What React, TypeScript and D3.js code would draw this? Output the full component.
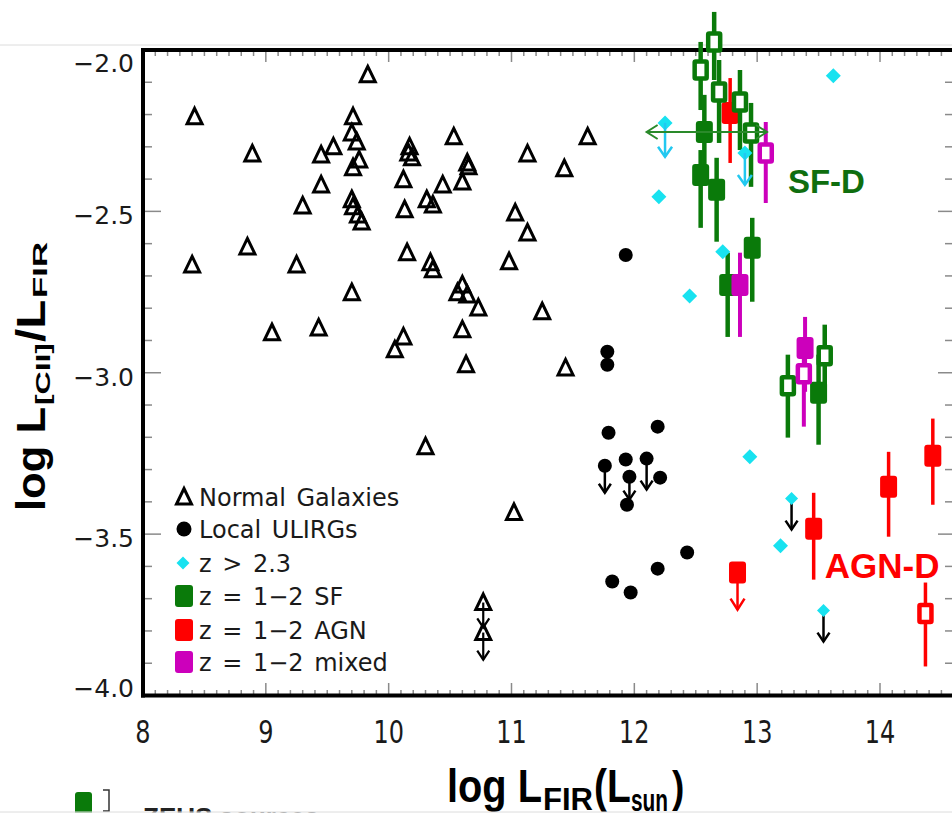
import React from 'react';
import * as d3 from 'd3';

const W = 952;
const H = 817;

const xTicks = [8, 9, 10, 11, 12, 13, 14];
const yTicks = [-2.0, -2.5, -3.0, -3.5, -4.0];
const yTickLabels = ['−2.0', '−2.5', '−3.0', '−3.5', '−4.0'];

// Normal galaxies [log LFIR, log LCII/LFIR]
const normalGalaxies: [number, number][] = [
  [8.42, -2.207], [8.40, -2.666], [8.85, -2.610], [8.89, -2.322], [9.25, -2.666],
  [9.30, -2.483], [9.05, -2.876], [9.43, -2.861], [9.45, -2.325], [9.45, -2.418],
  [9.55, -2.300], [9.70, -2.752], [9.71, -2.207], [9.70, -2.257], [9.74, -2.285],
  [9.76, -2.341], [9.71, -2.365], [9.70, -2.464], [9.71, -2.486], [9.75, -2.511],
  [9.78, -2.533], [9.83, -2.077], [10.05, -2.929], [10.12, -2.889], [10.12, -2.402],
  [10.13, -2.495], [10.15, -2.628], [10.17, -2.300], [10.16, -2.319], [10.19, -2.334],
  [10.30, -3.229], [10.31, -2.464], [10.36, -2.480], [10.34, -2.659], [10.36, -2.681],
  [10.44, -2.418], [10.53, -2.269], [10.56, -2.752], [10.60, -2.409], [10.60, -2.728],
  [10.60, -2.867], [10.64, -2.350], [10.65, -2.362], [10.64, -2.759], [10.63, -2.975],
  [10.73, -2.799], [10.98, -2.656], [11.03, -2.505], [11.02, -3.433], [11.13, -2.322],
  [11.13, -2.567], [11.25, -2.811], [11.43, -2.368], [11.44, -2.985], [11.62, -2.269],
];
const normalLimits = [
  { x: 10.77, y: -3.712, tip: -3.789 },
  { x: 10.77, y: -3.805, tip: -3.889 },
];

// Local ULIRGs
const ulirgs: [number, number][] = [
  [11.93, -2.635], [11.78, -2.935], [11.78, -2.975], [11.79, -3.186], [11.93, -3.269],
  [11.94, -3.409], [12.21, -3.325], [12.19, -3.167], [12.43, -3.557], [12.19, -3.607],
  [11.82, -3.647], [11.97, -3.681],
];
const ulirgLimits = [
  { x: 11.76, y: -3.288, tip: -3.372 },
  { x: 11.96, y: -3.322, tip: -3.393 },
  { x: 12.10, y: -3.266, tip: -3.362 },
];

// z > 2.3
const highZ: [number, number][] = [
  [13.62, -2.080], [12.20, -2.455], [12.72, -2.625], [12.45, -2.762], [12.94, -3.260],
  [13.19, -3.536],
];
const highZCyanLimits = [
  { x: 12.25, y: -2.226, tip: -2.331 },
  { x: 12.90, y: -2.319, tip: -2.418 },
];
const highZBlackLimits = [
  { x: 13.28, y: -3.390, tip: -3.486 },
  { x: 13.54, y: -3.737, tip: -3.833 },
];

type Src = { x: number; y: number; hi: number; lo: number; open: boolean };

const sfSources: Src[] = [
  { x: 12.65, y: -1.975, hi: -1.882, lo: -2.093, open: true },
  { x: 12.54, y: -2.062, hi: -1.975, lo: -2.186, open: true },
  { x: 12.69, y: -2.130, hi: -2.031, lo: -2.288, open: true },
  { x: 12.86, y: -2.161, hi: -2.062, lo: -2.310, open: true },
  { x: 12.95, y: -2.257, hi: -2.164, lo: -2.424, open: true },
  { x: 13.25, y: -3.040, hi: -2.944, lo: -3.201, open: true },
  { x: 13.55, y: -2.947, hi: -2.851, lo: -3.068, open: true },
  { x: 12.57, y: -2.254, hi: -2.139, lo: -2.387, open: false },
  { x: 12.54, y: -2.387, hi: -2.310, lo: -2.551, open: false },
  { x: 12.67, y: -2.433, hi: -2.334, lo: -2.594, open: false },
  { x: 12.96, y: -2.613, hi: -2.520, lo: -2.780, open: false },
  { x: 12.76, y: -2.728, hi: -2.628, lo: -2.889, open: false },
  { x: 13.50, y: -3.062, hi: -2.944, lo: -3.223, open: false },
];
const sfRange = { y: -2.254, x0: 12.10, x1: 13.08 };

const agnSources: Src[] = [
  { x: 12.78, y: -2.195, hi: -2.087, lo: -2.350, open: false },
  { x: 13.46, y: -3.483, hi: -3.372, lo: -3.641, open: false },
  { x: 14.07, y: -3.353, hi: -3.245, lo: -3.508, open: false },
  { x: 14.43, y: -3.257, hi: -3.142, lo: -3.409, open: false },
  { x: 14.37, y: -3.746, hi: -3.650, lo: -3.910, open: true },
];
const agnLimits = [{ x: 12.84, y: -3.619, tip: -3.734 }];

const mixedSources: Src[] = [
  { x: 13.07, y: -2.319, hi: -2.223, lo: -2.474, open: true },
  { x: 12.86, y: -2.728, hi: -2.628, lo: -2.889, open: false },
  { x: 13.39, y: -2.923, hi: -2.827, lo: -3.059, open: false },
  { x: 13.38, y: -3.003, hi: -2.913, lo: -3.167, open: true },
];

const legendItems = [
  { label: 'Normal Galaxies', kind: 'tri', color: '#000' },
  { label: 'Local ULIRGs', kind: 'circle', color: '#000' },
  { label: 'z > 2.3', kind: 'diamond', color: '#18e2f0' },
  { label: 'z = 1−2 SF', kind: 'rect', color: '#0a7a0a' },
  { label: 'z = 1−2 AGN', kind: 'rect', color: '#ff0000' },
  { label: 'z = 1−2 mixed', kind: 'rect', color: '#cc00bb' },
];

const GREEN = '#0a7a0a';
const RED = '#ff0000';
const MAG = '#cc00bb';
const CYAN = '#18e2f0';
const TICK = '#8a8a8a';
const SANS = '"DejaVu Sans", sans-serif';
const BOLD = '"Liberation Sans", Arial, sans-serif';

const triPath = 'M0,-8.5 L7.5,7 L-7.5,7 Z';
const diamondPath = (s: number) => `M0,${-s} L${s},0 L0,${s} L${-s},0 Z`;

export default function App() {
  const x = d3.scaleLinear().domain([8, 14]).range([143, 880]);
  const y = d3.scaleLinear().domain([-2, -4]).range([50, 695.5]);
  const xRight = 954;
  const xEnd = x.invert(xRight);

  const minorX = d3.range(81, 146).map((d) => d / 10).filter((d) => Math.abs(d - Math.round(d)) > 1e-6 && d < xEnd);
  const minorY = d3.range(-39, -20).map((d) => d / 10).filter((d) => Math.abs(d * 2 - Math.round(d * 2)) > 1e-6);

  const arrowHead = (cx: number, tipY: number, w: number, h: number) =>
    `M${cx - w},${tipY - h} L${cx},${tipY} L${cx + w},${tipY - h}`;

  const renderBars = (arr: Src[], color: string, bw: number) =>
    arr.map((d, i) => (
      <line key={`b${i}`} x1={x(d.x)} x2={x(d.x)} y1={y(d.hi)} y2={y(d.lo)} stroke={color} strokeWidth={bw} />
    ));
  const renderSquares = (arr: Src[], color: string) =>
    arr.map((d, i) =>
      d.open ? (
        <rect key={`s${i}`} x={x(d.x) - 6} y={y(d.y) - 8.5} width={12} height={17} fill="#fff" stroke={color} strokeWidth={4.5} rx={1} />
      ) : (
        <rect key={`s${i}`} x={x(d.x) - 8.5} y={y(d.y) - 11} width={17} height={22} fill={color} rx={3} />
      )
    );

  const legendRowY = [497, 529, 563, 596, 630, 662];

  return (
    <svg width={W} height={H} style={{ position: 'absolute', left: 0, top: 0, background: '#fff' }} xmlns="http://www.w3.org/2000/svg">
      <rect x={0} y={0} width={W} height={H} fill="#fff" />
      <line x1={0} x2={W} y1={45} y2={45} stroke="#dcdcdc" strokeWidth={1} />

      {/* minor / major ticks */}
      <g stroke={TICK} strokeWidth={1.5}>
        {minorY.map((v) => (
          <g key={`my${v}`}>
            <line x1={143} x2={152} y1={y(v)} y2={y(v)} />
            <line x1={xRight - 9} x2={xRight} y1={y(v)} y2={y(v)} />
          </g>
        ))}
        {yTicks.map((v) => (
          <g key={`My${v}`}>
            <line x1={143} x2={161} y1={y(v)} y2={y(v)} />
            <line x1={xRight - 16} x2={xRight} y1={y(v)} y2={y(v)} />
          </g>
        ))}
        {minorX.map((v) => (
          <g key={`mx${v}`}>
            <line x1={x(v)} x2={x(v)} y1={50} y2={56} />
            <line x1={x(v)} x2={x(v)} y1={695.5} y2={690} />
          </g>
        ))}
        {xTicks.map((v) => (
          <g key={`Mx${v}`}>
            <line x1={x(v)} x2={x(v)} y1={50} y2={62} />
            <line x1={x(v)} x2={x(v)} y1={695.5} y2={683} />
          </g>
        ))}
      </g>

      {/* axes frame */}
      <g stroke="#000" strokeWidth={4}>
        <line x1={141} x2={W} y1={50} y2={50} />
        <line x1={141} x2={W} y1={695.5} y2={695.5} />
        <line x1={143} x2={143} y1={48} y2={697.5} />
      </g>

      {/* tick labels */}
      <g fontFamily={SANS} fontSize={25} fill="#1a1a1a" textAnchor="end">
        {yTicks.map((v, i) => (
          <text key={`yl${v}`} x={134} y={Math.max(72, Math.min(697, y(v) + 13))}>
            {yTickLabels[i]}
          </text>
        ))}
      </g>
      <g fontFamily={SANS} fontSize={24} fill="#1a1a1a" textAnchor="middle">
        {xTicks.map((v) => (
          <text key={`xl${v}`} transform={`translate(${x(v)},743) scale(1,1.3)`}>
            {v}
          </text>
        ))}
      </g>

      {/* normal galaxies */}
      <g fill="none" stroke="#000" strokeWidth={3} strokeLinejoin="miter">
        {normalGalaxies.map((d, i) => (
          <path key={`ng${i}`} d={triPath} transform={`translate(${x(d[0])},${y(d[1])})`} />
        ))}
        {normalLimits.map((d, i) => (
          <g key={`nl${i}`}>
            <path d={triPath} transform={`translate(${x(d.x)},${y(d.y)})`} />
            <line x1={x(d.x)} x2={x(d.x)} y1={y(d.y)} y2={y(d.tip)} strokeWidth={2.2} />
            <path d={arrowHead(x(d.x), y(d.tip), 6, 9)} strokeWidth={2.2} />
          </g>
        ))}
      </g>

      {/* local ULIRGs */}
      <g fill="#000">
        {ulirgs.map((d, i) => (
          <circle key={`u${i}`} cx={x(d[0])} cy={y(d[1])} r={7} />
        ))}
        {ulirgLimits.map((d, i) => (
          <g key={`ul${i}`}>
            <circle cx={x(d.x)} cy={y(d.y)} r={7} />
            <line x1={x(d.x)} x2={x(d.x)} y1={y(d.y)} y2={y(d.tip)} stroke="#000" strokeWidth={2.5} />
            <path d={arrowHead(x(d.x), y(d.tip), 6, 9)} stroke="#000" strokeWidth={2.5} fill="none" />
          </g>
        ))}
      </g>

      {/* z = 1-2 sources */}
      <g>
        {renderBars(agnSources, RED, 3.5)}
        {renderSquares(agnSources, RED)}
        {agnLimits.map((d, i) => (
          <g key={`al${i}`}>
            <rect x={x(d.x) - 8.5} y={y(d.y) - 11} width={17} height={22} fill={RED} rx={3} />
            <line x1={x(d.x)} x2={x(d.x)} y1={y(d.y)} y2={y(d.tip)} stroke={RED} strokeWidth={2.5} />
            <path d={arrowHead(x(d.x), y(d.tip), 7, 11)} stroke={RED} strokeWidth={2.5} fill="none" />
          </g>
        ))}
      </g>
      <g>
        {renderBars(sfSources, GREEN, 4.5)}
        {renderSquares(sfSources, GREEN)}
      </g>
      <g>
        {renderBars(mixedSources, MAG, 4)}
        {renderSquares(mixedSources, MAG)}
      </g>

      {/* z > 2.3 */}
      <g>
        {highZ.map((d, i) => (
          <path key={`h${i}`} d={diamondPath(7.5)} fill={CYAN} transform={`translate(${x(d[0])},${y(d[1])})`} />
        ))}
        {highZCyanLimits.map((d, i) => (
          <g key={`hc${i}`}>
            <path d={diamondPath(7.5)} fill={CYAN} transform={`translate(${x(d.x)},${y(d.y)})`} />
            <line x1={x(d.x)} x2={x(d.x)} y1={y(d.y)} y2={y(d.tip)} stroke="#22c8f0" strokeWidth={2.5} />
            <path d={arrowHead(x(d.x), y(d.tip), 7, 10)} stroke="#22c8f0" strokeWidth={2.5} fill="none" />
          </g>
        ))}
        {highZBlackLimits.map((d, i) => (
          <g key={`hb${i}`}>
            <line x1={x(d.x)} x2={x(d.x)} y1={y(d.y)} y2={y(d.tip)} stroke="#000" strokeWidth={2.5} />
            <path d={arrowHead(x(d.x), y(d.tip), 6, 9)} stroke="#000" strokeWidth={2.5} fill="none" />
            <path d={diamondPath(6.5)} fill={CYAN} transform={`translate(${x(d.x)},${y(d.y)})`} />
          </g>
        ))}
      </g>

      {/* horizontal range arrow */}
      <g stroke="#2a8a2a" strokeWidth={2} fill="none">
        <line x1={x(sfRange.x0)} x2={x(sfRange.x1)} y1={y(sfRange.y)} y2={y(sfRange.y)} />
        <path d={`M${x(sfRange.x0) + 11},${y(sfRange.y) - 7} L${x(sfRange.x0)},${y(sfRange.y)} L${x(sfRange.x0) + 11},${y(sfRange.y) + 7}`} />
        <path d={`M${x(sfRange.x1) - 11},${y(sfRange.y) - 7} L${x(sfRange.x1)},${y(sfRange.y)} L${x(sfRange.x1) - 11},${y(sfRange.y) + 7}`} />
      </g>

      {/* annotations */}
      <text x={x(13.25)} y={y(-2.443)} fontFamily={BOLD} fontWeight="bold" fontSize={33} fill="#0f6e0f">SF-D</text>
      <text x={x(13.55)} y={y(-3.635)} fontFamily={BOLD} fontWeight="bold" fontSize={35} fill={RED}>AGN-D</text>

      {/* legend */}
      <g fontFamily={SANS} fontSize={24} fill="#1a1a1a" wordSpacing={3}>
        {legendItems.map((it, i) => {
          const cy = legendRowY[i];
          let marker = null;
          if (it.kind === 'tri') marker = <path d={triPath} transform={`translate(184,${cy})`} fill="none" stroke="#000" strokeWidth={3} />;
          else if (it.kind === 'circle') marker = <circle cx={184} cy={cy} r={7.5} fill="#000" />;
          else if (it.kind === 'diamond') marker = <path d={diamondPath(6.5)} transform={`translate(183,${cy})`} fill={it.color} />;
          else marker = <rect x={175} y={cy - 11} width={18} height={22} rx={3} fill={it.color} />;
          return (
            <g key={`lg${i}`}>
              {marker}
              <text x={199} y={cy + 8.5}>{it.label}</text>
            </g>
          );
        })}
      </g>

      {/* y axis title */}
      <g transform="rotate(-90)">
        <text fontFamily={BOLD} fontWeight="bold" fill="#000">
          <tspan x={-511} y={45} fontSize={40} textLength={104} lengthAdjust="spacingAndGlyphs">log L</tspan>
          <tspan x={-405} y={50} fontSize={21} textLength={62} lengthAdjust="spacingAndGlyphs">[CII]</tspan>
          <tspan x={-342} y={45} fontSize={40} textLength={42} lengthAdjust="spacingAndGlyphs">/L</tspan>
          <tspan x={-298} y={47} fontSize={21} textLength={56} lengthAdjust="spacingAndGlyphs">FIR</tspan>
        </text>
      </g>

      {/* x axis title */}
      <g transform="translate(0,802) scale(1,1.18)">
        <text fontFamily={BOLD} fontWeight="bold" fill="#000">
          <tspan x={447} y={0} fontSize={39} textLength={95} lengthAdjust="spacingAndGlyphs">log L</tspan>
          <tspan x={543} y={7} fontSize={27} textLength={50} lengthAdjust="spacingAndGlyphs">FIR</tspan>
          <tspan x={594} y={0} fontSize={39}>(L</tspan>
          <tspan x={631} y={8} fontSize={27} textLength={37} lengthAdjust="spacingAndGlyphs">sun</tspan>
          <tspan x={672} y={0} fontSize={37}>)</tspan>
        </text>
      </g>

      {/* bottom slide remnant */}
      <rect x={75} y={792} width={17} height={30} rx={3} fill={GREEN} />
      <path d="M103,790 H109 V811 H103" stroke="#333" strokeWidth={1.5} fill="none" />
      <text x={143} y={826} fontFamily={BOLD} fontWeight="bold" fontSize={26} fill="#222">ZEUS sources</text>
      <rect x={0} y={812.5} width={W} height={H - 812.5} fill="#fff" />
      <line x1={0} x2={W} y1={812} y2={812} stroke="#dcdcdc" strokeWidth={1} />
    </svg>
  );
}
